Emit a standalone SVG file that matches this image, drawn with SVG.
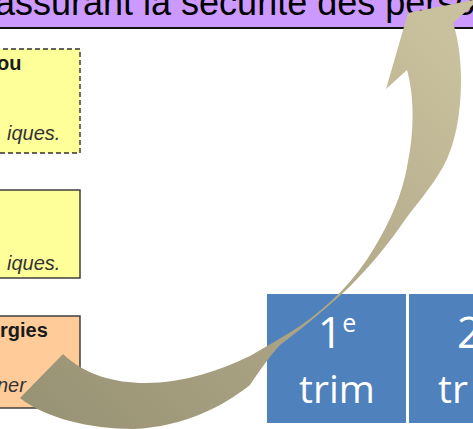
<svg xmlns="http://www.w3.org/2000/svg" width="473" height="429" viewBox="0 0 473 429">
<defs>
<style>
.box{stroke:#333;stroke-width:1.4}
.bold{font-family:"Liberation Sans",Arial,sans-serif;font-weight:bold;font-size:20px;fill:#1a1a1a}
.ital{font-family:"Liberation Sans",Arial,sans-serif;font-style:italic;font-size:20px;fill:#333}
.blue{fill:#4F81BD}
.wt{font-family:"Open Sans","Noto Sans",sans-serif;fill:#fff;text-anchor:middle}
</style>
<linearGradient id="ag" gradientUnits="userSpaceOnUse" x1="60" y1="420" x2="440" y2="40">
<stop offset="0" stop-color="#9A9476"/>
<stop offset="0.45" stop-color="#ACA485"/>
<stop offset="1" stop-color="#C9C09D"/>
</linearGradient>
</defs>
<rect width="473" height="429" fill="#fff"/>
<g id="banner">
<rect x="0" y="0" width="473" height="28" fill="#CC99FF"/>
<line x1="0" y1="28" x2="473" y2="28" stroke="#111" stroke-width="2"/>
<text x="-5" y="15" font-family="Liberation Sans,Arial,sans-serif" font-size="36" fill="#000">assurant la sécurité des person</text>
</g>
<g id="box1">
<rect class="box" x="-5" y="49" width="85" height="104" fill="#FFFF99" stroke-dasharray="5,3"/>
<text class="bold" x="-3" y="70">ou</text>
<text class="ital" x="7" y="140">iques.</text>
</g>
<g id="box2">
<rect class="box" x="-5" y="190" width="85" height="88" fill="#FFFF99"/>
<text class="ital" x="7" y="270">iques.</text>
</g>
<g id="box3">
<rect class="box" x="-5" y="316" width="85" height="92" fill="#FFCC99"/>
<text class="bold" x="0" y="337">rgies</text>
<text class="ital" x="-3" y="392">ner</text>
</g>
<g id="trim1">
<rect class="blue" x="267" y="294" width="139" height="129"/>
<text class="wt" x="337" y="348" font-size="43">1<tspan font-size="25" dy="-16">e</tspan></text>
<text class="wt" x="337" y="403" font-size="39">trim</text>
</g>
<g id="trim2">
<rect class="blue" x="409" y="294" width="70" height="129"/>
<text x="457" y="348" font-family="Open Sans,Noto Sans,sans-serif" font-size="43" fill="#fff">2</text>
<text x="438" y="403" font-family="Open Sans,Noto Sans,sans-serif" font-size="39" fill="#fff">tr</text>
</g>
<g id="connectors">
<path fill="url(#ag)" d="M63,354 C85,375 115,383 145,383 C185,383 220,370 250,356 C267,346 285,336 300,326 C330,305 355,280 373,250 C390,222 402,195 407,167 C415,130 414,95 407,70 L386,89 L408,13 L473,0 L473,5 L453,23 C458,38 461,58 461,80 C461,115 455,145 443,167 C430,190 415,205 400,227 C380,255 362,275 343,293 C322,312 300,330 280,345 C268,358 258,373 250,385 C225,405 185,427 133,429 C90,429 45,418 20,398 Z"/>
</g>
</svg>
